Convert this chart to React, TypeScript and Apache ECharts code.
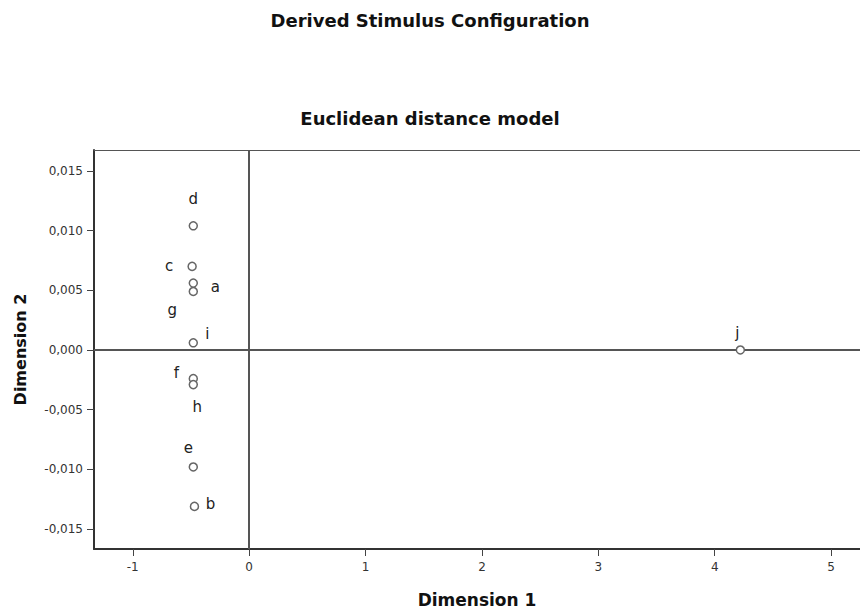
import React, { useEffect, useRef } from "react";
import * as echarts from "echarts";

const pointLabels = ["a", "b", "c", "d", "e", "f", "g", "h", "i", "j"];
const dimension1 = [-0.48, -0.47, -0.49, -0.48, -0.48, -0.48, -0.48, -0.48, -0.48, 4.22];
const dimension2 = [0.0056, -0.0131, 0.0070, 0.0104, -0.0098, -0.0024, 0.0049, -0.0029, 0.0006, 0.0];
const xTicks = [-1, 0, 1, 2, 3, 4, 5];
const yTicks = [-0.015, -0.01, -0.005, 0, 0.005, 0.01, 0.015];

// label placement (style only)
const labelOffsets: Record<string, [number, number]> = {
  a: [22, 4],
  b: [16, -2],
  c: [-23, 0],
  d: [0, -27],
  e: [-5, -19],
  f: [-17, -6],
  g: [-21, 19],
  h: [4, 22],
  i: [14, -9],
  j: [-3, -17],
};

export default function App() {
  const ref = useRef<HTMLDivElement>(null);
  useEffect(() => {
    if (!ref.current) return;
    const chart = echarts.init(ref.current, undefined, { renderer: "svg" });
    const data = pointLabels.map((name, i) => ({
      name,
      value: [dimension1[i], dimension2[i]],
      label: { offset: labelOffsets[name] },
    }));
    const xMin = -1.333;
    const xMax = 5.248;
    chart.setOption({
      animation: false,
      backgroundColor: "#ffffff",
      title: [
        {
          text: "Derived Stimulus Configuration",
          left: "center",
          top: 6,
          textStyle: { fontFamily: "DejaVu Sans", fontWeight: "bold", fontSize: 18, color: "#111" },
        },
        {
          text: "Euclidean distance model",
          left: "center",
          top: 104,
          textStyle: { fontFamily: "DejaVu Sans", fontWeight: "bold", fontSize: 18, color: "#111" },
        },
      ],
      grid: {
        left: 94,
        top: 150,
        right: -4,
        bottom: 64,
        show: false,
        containLabel: false,
      },
      xAxis: [
        {
          type: "value",
          min: xMin,
          max: xMax,
          position: "bottom",
          name: "Dimension 1",
          nameLocation: "middle",
          nameGap: 42,
          nameTextStyle: { fontFamily: "DejaVu Sans", fontWeight: "bold", fontSize: 17, color: "#111" },
          axisLine: { onZero: false, lineStyle: { color: "#333", width: 2 } },
          axisTick: { show: true, length: 7, lineStyle: { color: "#444" }, customValues: xTicks },
          axisLabel: {
            customValues: xTicks,
            margin: 12,
            fontFamily: "DejaVu Sans",
            fontSize: 12,
            color: "#333",
            formatter: (v: number) => String(v),
          },
          splitLine: { show: false },
        },
        {
          type: "value",
          min: xMin,
          max: xMax,
          position: "top",
          axisLine: { show: true, onZero: false, lineStyle: { color: "#555", width: 1 } },
          axisTick: { show: false },
          axisLabel: { show: false },
          splitLine: { show: false },
        },
      ],
      yAxis: {
        type: "value",
        min: -0.01667,
        max: 0.01675,
        position: "left",
        name: "Dimension 2",
        nameLocation: "middle",
        nameRotate: 90,
        nameGap: 66,
        nameTextStyle: { fontFamily: "DejaVu Sans", fontWeight: "bold", fontSize: 16, color: "#111" },
        axisLine: { onZero: false, lineStyle: { color: "#333", width: 2 } },
        axisTick: { show: true, length: 7, lineStyle: { color: "#444" }, customValues: yTicks },
        axisLabel: {
          customValues: yTicks,
          margin: 11,
          fontFamily: "DejaVu Sans",
          fontSize: 12,
          color: "#333",
          formatter: (v: number) => v.toFixed(3).replace(".", ","),
        },
        splitLine: { show: false },
      },
      series: [
        {
          type: "scatter",
          xAxisIndex: 0,
          data,
          symbol: "circle",
          symbolSize: 8,
          itemStyle: { color: "#ffffff", borderColor: "#666", borderWidth: 1.5, opacity: 1 },
          label: {
            show: true,
            position: "inside",
            formatter: (p: any) => p.name,
            fontFamily: "DejaVu Sans",
            fontSize: 15,
            color: "#222",
            align: "center",
            verticalAlign: "middle",
          },
          emphasis: { disabled: true },
          z: 3,
          markLine: {
            silent: true,
            symbol: "none",
            label: { show: false },
            lineStyle: { color: "#555", width: 2, type: "solid" },
            emphasis: { disabled: true },
            data: [{ xAxis: 0 }, { yAxis: 0 }],
            z: 1,
          },
        },
      ],
    });
    return () => chart.dispose();
  }, []);
  return (
    <div
      ref={ref}
      style={{ position: "fixed", left: 0, top: 0, width: 860, height: 613, background: "#fff" }}
    />
  );
}
